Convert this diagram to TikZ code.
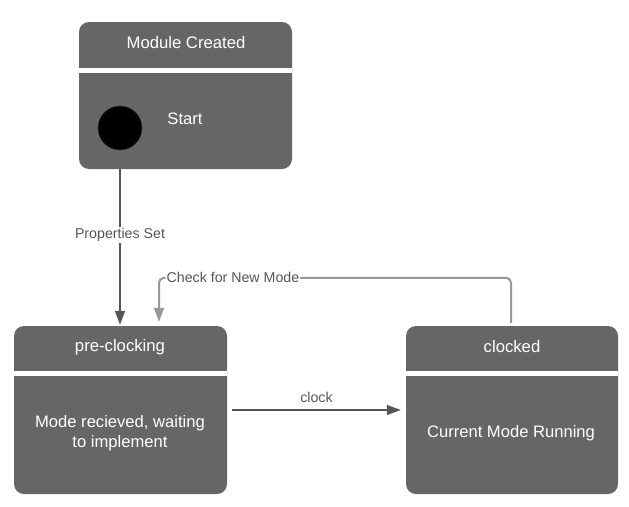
\documentclass[tikz,border=0pt]{standalone}
\usepackage{fontspec}
\setmainfont{Liberation Sans}
\usetikzlibrary{arrows.meta}
\definecolor{boxgray}{HTML}{666666}
\definecolor{linegray}{HTML}{555555}
\definecolor{loopgray}{HTML}{999999}

\tikzset{
  statebox/.style={fill=boxgray, rounded corners=10pt, inner sep=0pt},
  headtext/.style={text=white, font=\fontsize{16.7}{19}\selectfont},
  bodytext/.style={text=white, font=\fontsize{16.6}{20}\selectfont, align=center},
  divider/.style={white, line width=5pt},
  trans/.style={draw=linegray, line width=1.2pt, -{Triangle[length=14pt,width=10pt]}},
  loopline/.style={draw=loopgray, line width=2pt, rounded corners=5pt, -{Triangle[length=14pt,width=10pt]}},
  translabel/.style={fill=white, text=linegray, font=\fontsize{14.2}{16}\selectfont, inner sep=1pt},
}

\begin{document}
\begin{tikzpicture}[x=1pt,y=-1pt]
  \useasboundingbox (0,0) rectangle (629,506);

  %%%%% STATES %%%%%
  \node[statebox, minimum width=213pt, minimum height=147pt] (created) at (185.5,95.5) {};
  \node[statebox, minimum width=213pt, minimum height=168pt] (preclock) at (120.5,410) {};
  \node[statebox, minimum width=212pt, minimum height=168pt] (clocked) at (512,410) {};

  \draw[divider] (created.west |- 0,70) -- (created.east |- 0,70);
  \draw[divider] (preclock.west |- 0,373.5) -- (preclock.east |- 0,373.5);
  \draw[divider] (clocked.west |- 0,373.5) -- (clocked.east |- 0,373.5);

  \node[headtext] (createdtitle) at (186,43) {Module Created};
  \node[headtext] (preclocktitle) at (120,347) {pre-clocking};
  \node[headtext] (clockedtitle) at (512,347) {clocked};

  \node[circle, fill=black, draw=black!80, minimum size=44pt, inner sep=0pt] (startdot) at (120,128) {};
  \node[bodytext] (starttext) at (185,119) {Start};
  \node[bodytext] (preclockbody) at (120,433) {Mode recieved, waiting\\to implement};
  \node[bodytext] (clockedbody) at (511,433) {Current Mode Running};

  %%%%% TRANSITIONS %%%%%
  \draw[trans, shorten >=1pt] (startdot |- created.south) -- node[translabel, pos=0.42] {Properties Set} (startdot |- preclock.north);
  \draw[trans, shorten <=5pt, shorten >=5pt] (preclock.east) -- node[above=3pt, text=linegray, font=\fontsize{14.2}{16}\selectfont] {clock} (clocked.west);

  \coordinate (checkin) at ([xshift=38.5pt]preclock.north);
  \draw[loopline, shorten >=4pt, shorten <=3pt] ([xshift=-1pt]clocked.north) -- ++(0,-48) coordinate (loopturn)
    -- node[translabel, pos=0.79] {Check for New Mode} (loopturn -| checkin) -- (checkin);
\end{tikzpicture}
\end{document}
